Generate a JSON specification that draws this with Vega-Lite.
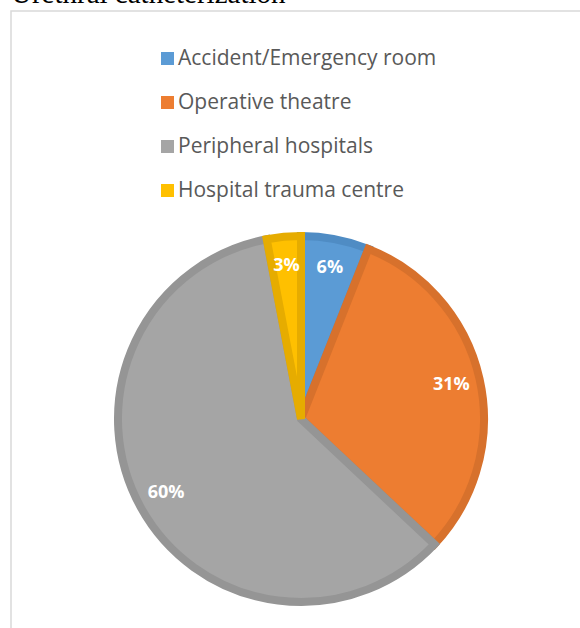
{
  "$schema": "https://vega.github.io/schema/vega-lite/v6.json",
  "autosize": {"type": "pad"},
  "padding": {"left": 10, "top": -20, "right": 0, "bottom": 0},
  "width": 580,
  "height": 816,
  "background": "white",
  "title": {
    "text": "Urethral catheterization",
    "anchor": "start",
    "frame": "group",
    "font": "Liberation Serif",
    "fontSize": 29,
    "fontWeight": "normal",
    "color": "#000000",
    "offset": -22,
    "baseline": "alphabetic"
  },
  "config": {
    "view": {"stroke": null}
  },
  "data": {
    "values": [
      {"location": "Accident/Emergency room", "pct": 6, "ord": 1, "label": "6%"},
      {"location": "Operative theatre", "pct": 31, "ord": 2, "label": "31%"},
      {"location": "Peripheral hospitals", "pct": 60, "ord": 3, "label": "60%"},
      {"location": "Hospital trauma centre", "pct": 3, "ord": 4, "label": "3%"}
    ]
  },
  "layer": [
    {
      "data": {"values": [{"frame": 1}]},
      "mark": {"type": "rect", "fill": null, "stroke": "#d9d9d9", "strokeWidth": 1.5},
      "encoding": {}
    },
    {
      "mark": {"type": "arc", "outerRadius": 183, "strokeWidth": 8, "strokeJoin": "miter"},
      "encoding": {
        "theta": {"field": "pct", "type": "quantitative", "stack": true},
        "order": {"field": "ord", "type": "quantitative"},
        "fill": {
          "field": "location",
          "type": "nominal",
          "sort": ["Accident/Emergency room", "Operative theatre", "Peripheral hospitals", "Hospital trauma centre"],
          "scale": {
            "domain": ["Accident/Emergency room", "Operative theatre", "Peripheral hospitals", "Hospital trauma centre"],
            "range": ["#5B9BD5", "#ED7D31", "#A5A5A5", "#FFC000"]
          },
          "legend": {
            "title": null,
            "orient": "none",
            "legendX": 146,
            "legendY": 37,
            "symbolType": "square",
            "symbolSize": 170,
            "symbolStrokeWidth": 0,
            "labelFont": "Open Sans",
            "labelFontSize": 21,
            "labelColor": "#595959",
            "labelOffset": 0,
            "rowPadding": 22,
            "labelLimit": 400
          }
        },
        "stroke": {
          "field": "location",
          "type": "nominal",
          "scale": {
            "domain": ["Accident/Emergency room", "Operative theatre", "Peripheral hospitals", "Hospital trauma centre"],
            "range": ["#4F8CC4", "#D7712C", "#959595", "#E6AC00"]
          },
          "legend": null
        }
      }
    },
    {
      "mark": {"type": "text", "radius": 154, "font": "Open Sans", "fontSize": 18, "fontWeight": "bold", "fill": "white"},
      "encoding": {
        "theta": {"field": "pct", "type": "quantitative", "stack": true},
        "order": {"field": "ord", "type": "quantitative"},
        "text": {"field": "label", "type": "nominal"}
      }
    }
  ]
}
